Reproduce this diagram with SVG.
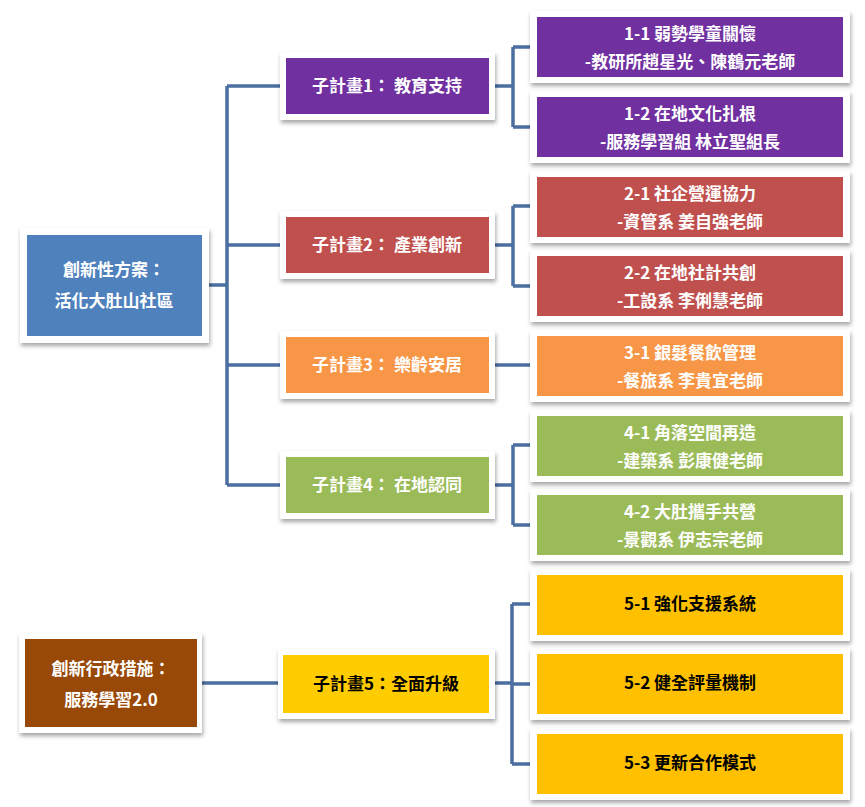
<svg xmlns="http://www.w3.org/2000/svg" width="865" height="807" viewBox="0 0 865 807">
<defs>
<filter id="sh" x="-10%" y="-10%" width="130%" height="140%"><feDropShadow dx="1" dy="3" stdDeviation="2" flood-color="#000" flood-opacity="0.35"/></filter>
<style>
.f{fill:#fff;filter:url(#sh)}
text{font-family:"Noto Sans CJK TC","Liberation Sans",sans-serif;font-size:17px;font-weight:bold;fill:#fff;text-anchor:middle}
.k{fill:#000}
.c{fill:none;stroke:#4A6FA0;stroke-width:3.5}
</style>
</defs>
<rect width="865" height="807" fill="#fff"/>
<g id="connectors">
<path class="c" d="M209 285H227M227 86V485M227 86H280M227 245H280M227 365H280M227 485H280"/>
<path class="c" d="M495 86H513M513 47V127M513 47H530M513 127H530"/>
<path class="c" d="M495 245H513M513 206V286M513 206H530M513 286H530"/>
<path class="c" d="M495 365H530"/>
<path class="c" d="M495 485H513M513 445V525M513 445H530M513 525H530"/>
<path class="c" d="M202 683H280M495 683H512M512 604V764M512 604H530M512 684H530M512 764H530"/>
</g>
<g id="root1"><rect class="f" x="20" y="228" width="189" height="115"/><rect x="27" y="235" width="175" height="101" fill="#4F81BD"/><text x="114" y="276">創新性方案：</text><text x="114" y="307">活化大肚山社區</text></g>
<g id="root2"><rect class="f" x="19" y="633" width="183" height="100"/><rect x="25" y="639" width="172" height="88" fill="#984807"/><text x="111" y="675">創新行政措施：</text><text x="111" y="706">服務學習2.0</text></g>
<g id="sub1"><rect class="f" x="280" y="52" width="215" height="68"/><rect x="286" y="58" width="203" height="56" fill="#7030A0"/><text x="387" y="92">子計畫1： 教育支持</text></g>
<g id="sub2"><rect class="f" x="280" y="211" width="215" height="68"/><rect x="286" y="217" width="203" height="56" fill="#C0504D"/><text x="387" y="251">子計畫2： 產業創新</text></g>
<g id="sub3"><rect class="f" x="280" y="331" width="215" height="68"/><rect x="286" y="337" width="203" height="56" fill="#F79646"/><text x="387" y="371">子計畫3： 樂齡安居</text></g>
<g id="sub4"><rect class="f" x="280" y="451" width="215" height="68"/><rect x="286" y="457" width="203" height="56" fill="#9BBB59"/><text x="387" y="491">子計畫4： 在地認同</text></g>
<g id="sub5"><rect class="f" x="278" y="649" width="217" height="70"/><rect x="283" y="655" width="206" height="58" fill="#FFCC00"/><text class="k" x="386" y="690">子計畫5：全面升級</text></g>
<g id="l11"><rect class="f" x="530" y="11" width="320" height="72"/><rect x="537" y="17" width="306" height="60" fill="#7030A0"/><text x="690" y="40">1-1  弱勢學童關懷</text><text x="690" y="68">-教研所趙星光、陳鶴元老師</text></g>
<g id="l12"><rect class="f" x="530" y="91" width="320" height="72"/><rect x="537" y="97" width="306" height="60" fill="#7030A0"/><text x="690" y="120">1-2  在地文化扎根</text><text x="690" y="148">-服務學習組 林立聖組長</text></g>
<g id="l21"><rect class="f" x="530" y="171" width="320" height="72"/><rect x="537" y="177" width="306" height="60" fill="#C0504D"/><text x="690" y="200">2-1  社企營運協力</text><text x="690" y="228">-資管系 姜自強老師</text></g>
<g id="l22"><rect class="f" x="530" y="250" width="320" height="72"/><rect x="537" y="256" width="306" height="60" fill="#C0504D"/><text x="690" y="279">2-2  在地社計共創</text><text x="690" y="307">-工設系 李俐慧老師</text></g>
<g id="l31"><rect class="f" x="530" y="330" width="320" height="72"/><rect x="537" y="336" width="306" height="60" fill="#F79646"/><text x="690" y="359">3-1  銀髮餐飲管理</text><text x="690" y="387">-餐旅系 李貴宜老師</text></g>
<g id="l41"><rect class="f" x="530" y="410" width="320" height="72"/><rect x="537" y="416" width="306" height="60" fill="#9BBB59"/><text x="690" y="439">4-1  角落空間再造</text><text x="690" y="467">-建築系 彭康健老師</text></g>
<g id="l42"><rect class="f" x="530" y="489" width="320" height="72"/><rect x="537" y="495" width="306" height="60" fill="#9BBB59"/><text x="690" y="518">4-2  大肚攜手共營</text><text x="690" y="546">-景觀系 伊志宗老師</text></g>
<g id="l51"><rect class="f" x="530" y="569" width="320" height="72"/><rect x="537" y="575" width="306" height="60" fill="#FFC000"/><text class="k" x="690" y="610">5-1 強化支援系統</text></g>
<g id="l52"><rect class="f" x="530" y="648" width="320" height="72"/><rect x="537" y="654" width="306" height="60" fill="#FFC000"/><text class="k" x="690" y="689">5-2 健全評量機制</text></g>
<g id="l53"><rect class="f" x="530" y="728" width="320" height="72"/><rect x="537" y="734" width="306" height="60" fill="#FFC000"/><text class="k" x="690" y="769">5-3 更新合作模式</text></g>
</svg>
